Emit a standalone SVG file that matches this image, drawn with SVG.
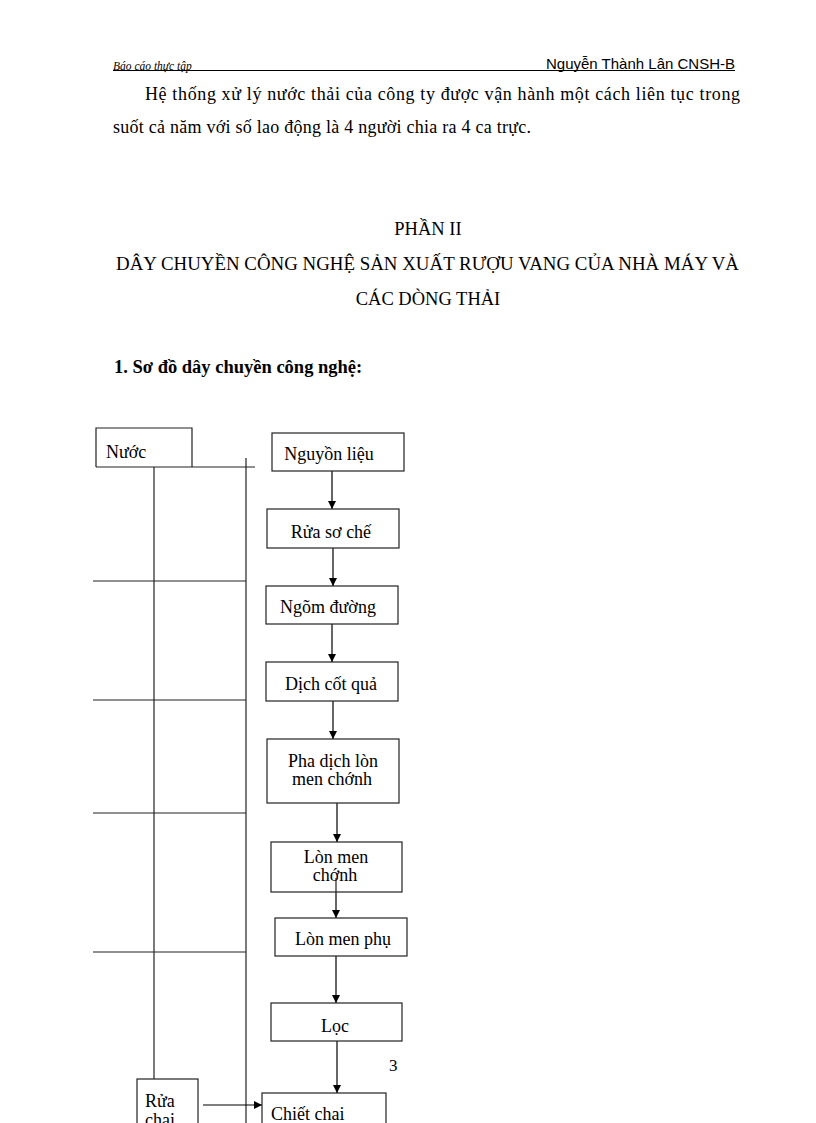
<svg xmlns="http://www.w3.org/2000/svg" width="816" height="1123" viewBox="0 0 816 1123">
<defs>
<marker id="ah" viewBox="0 0 10 10" refX="10" refY="5" markerWidth="8" markerHeight="8" markerUnits="userSpaceOnUse" orient="auto">
<path d="M0,0 L10,5 L0,10 z" fill="#000"/>
</marker>
<style>
.t{font-family:"Liberation Serif","Times New Roman",serif;fill:#000}
.p{font-size:18px}
.h{font-size:18.5px}
.b{font-size:18px}
.box{fill:#fff;stroke:#222;stroke-width:1.2}
.ln{stroke:#222;stroke-width:1.2;fill:none}
.ar{stroke:#000;stroke-width:1.2;fill:none;marker-end:url(#ah)}
</style>
</defs>
<rect width="816" height="1123" fill="#fff"/>
<g id="header">
<text x="113" y="70" class="t" style="font-size:11.5px;font-style:italic">Báo cáo thực tập</text>
<text x="735" y="69" text-anchor="end" style="font-family:'Liberation Sans',Arial,sans-serif;font-size:15px">Nguyễn Thành Lân CNSH-B</text>
<line x1="113" y1="70.5" x2="735" y2="70.5" stroke="#000" stroke-width="1"/>
</g>
<g id="paragraph">
<text x="145" y="100" class="t p" textLength="595" lengthAdjust="spacing">Hệ thống xử lý nước thải của công ty được vận hành một cách liên tục trong</text>
<text x="113" y="133" class="t p" textLength="418" lengthAdjust="spacing">suốt cả năm với số lao động là 4 người chia ra 4 ca trực.</text>
</g>
<g id="titles">
<text x="428" y="235" text-anchor="middle" class="t h">PHẦN II</text>
<text x="116" y="270" class="t h" textLength="623" lengthAdjust="spacingAndGlyphs">DÂY CHUYỀN CÔNG NGHỆ SẢN XUẤT RƯỢU VANG CỦA NHÀ MÁY VÀ</text>
<text x="428" y="305" text-anchor="middle" class="t h">CÁC DÒNG THẢI</text>
<text x="114" y="373" class="t" style="font-size:18.5px;font-weight:bold">1. Sơ đồ dây chuyền công nghệ:</text>
</g>
<g id="connectors">
<line class="ln" x1="154" y1="467" x2="154" y2="1079"/>
<line class="ln" x1="246" y1="458" x2="246" y2="1123"/>
<line class="ln" x1="96" y1="467" x2="255" y2="467"/>
<line class="ln" x1="93" y1="581" x2="246" y2="581"/>
<line class="ln" x1="93" y1="700" x2="246" y2="700"/>
<line class="ln" x1="93" y1="813" x2="246" y2="813"/>
<line class="ln" x1="93" y1="952" x2="246" y2="952"/>
<line class="ar" x1="332" y1="471" x2="332" y2="509"/>
<line class="ar" x1="333" y1="548" x2="333" y2="586"/>
<line class="ar" x1="332" y1="624" x2="332" y2="662"/>
<line class="ar" x1="333" y1="701" x2="333" y2="739"/>
<line class="ar" x1="337" y1="803" x2="337" y2="842"/>
<line class="ar" x1="336" y1="878" x2="336" y2="918"/>
<line class="ar" x1="336" y1="952" x2="336" y2="1003"/>
<line class="ar" x1="337" y1="1041" x2="337" y2="1093"/>
<line class="ar" x1="203" y1="1105" x2="262" y2="1105"/>
</g>
<g id="nuoc">
<path class="ln" d="M96,467 V428 H192 V467"/>
<text x="106" y="458" class="t b">Nước</text>
</g>
<g id="nguyen-lieu">
<rect class="box" x="272" y="433" width="132" height="38"/>
<text x="329" y="460" text-anchor="middle" class="t b">Nguyồn liệu</text>
</g>
<g id="rua-so-che">
<rect class="box" x="267" y="509" width="132" height="39"/>
<text x="331" y="538" text-anchor="middle" class="t b">Rửa sơ chế</text>
</g>
<g id="ngom-duong">
<rect class="box" x="266" y="586" width="132" height="38"/>
<text x="328" y="613" text-anchor="middle" class="t b">Ngõm đường</text>
</g>
<g id="dich-cot-qua">
<rect class="box" x="266" y="662" width="132" height="39"/>
<text x="331" y="690" text-anchor="middle" class="t b">Dịch cốt quả</text>
</g>
<g id="pha-dich">
<rect class="box" x="267" y="739" width="132" height="64"/>
<text x="333" y="767" text-anchor="middle" class="t b">Pha dịch lòn</text>
<text x="332" y="785" text-anchor="middle" class="t b">men chớnh</text>
</g>
<g id="lon-men-chinh">
<rect class="box" x="271" y="842" width="131" height="50"/>
<text x="336" y="863" text-anchor="middle" class="t b">Lòn men</text>
<text x="335" y="881" text-anchor="middle" class="t b">chớnh</text>
<line class="ln" x1="336" y1="878" x2="336" y2="892"/>
</g>
<g id="lon-men-phu">
<rect class="box" x="275" y="918" width="132" height="38"/>
<text x="343" y="945" text-anchor="middle" class="t b">Lòn men phụ</text>
</g>
<g id="loc">
<rect class="box" x="271" y="1003" width="131" height="38"/>
<text x="335" y="1032" text-anchor="middle" class="t b">Lọc</text>
</g>
<text x="389" y="1071" class="t" style="font-size:17px">3</text>
<g id="rua-chai">
<rect class="box" x="137" y="1079" width="61" height="60"/>
<text x="145" y="1107" class="t b">Rửa</text>
<text x="145" y="1126" class="t b">chai</text>
</g>
<g id="chiet-chai">
<rect class="box" x="262" y="1093" width="124" height="50"/>
<text x="271" y="1120" class="t b">Chiết chai</text>
</g>
</svg>
